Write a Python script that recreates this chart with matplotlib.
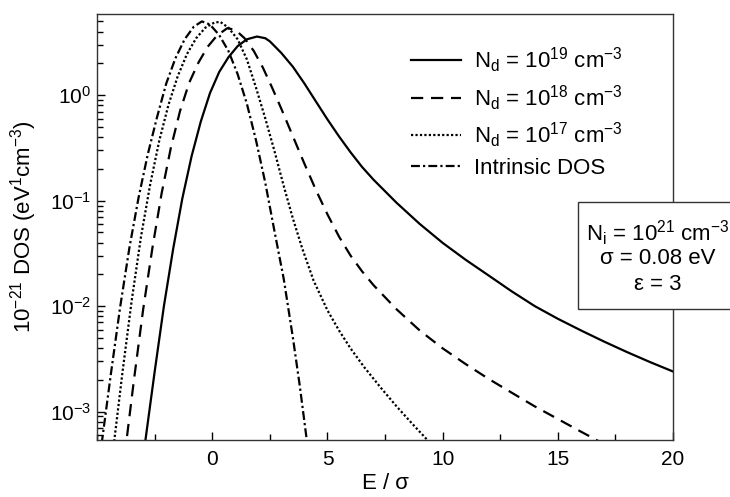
import numpy as np
import matplotlib
matplotlib.use('Agg')
import matplotlib.pyplot as plt
from matplotlib.ticker import MultipleLocator, FixedLocator, LogLocator, NullFormatter
from matplotlib.patches import Rectangle

plt.rcParams['font.family'] = ['Liberation Sans', 'DejaVu Sans']
plt.rcParams['mathtext.fontset'] = 'custom'
plt.rcParams['mathtext.rm'] = 'Liberation Sans'
plt.rcParams['mathtext.it'] = 'Liberation Sans:italic'
plt.rcParams['mathtext.default'] = 'regular'

# values (x = E/sigma, y = 1e-21 DOS)
x_19 = [-3.0, -2.9, -2.5, -2.1, -1.7, -1.3, -0.9, -0.5, -0.1, 0.3, 0.7, 1.1, 1.5, 1.94,
        2.3, 2.5, 3.0, 3.5, 4.0, 4.5, 5.0, 5.5, 6.0, 6.5, 7.0, 8.0, 9.0, 10.0, 11.0,
        12.0, 13.0, 14.0, 15.0, 16.0, 17.0, 18.0, 19.0, 20.0]
y_19 = [3.7e-4, 5.4e-4, 2.4e-3, 0.010, 0.0347, 0.105, 0.263, 0.562, 1.047, 1.66, 2.29,
        2.92, 3.39, 3.60, 3.47, 3.24, 2.51, 1.86, 1.29, 0.871, 0.589, 0.407, 0.288, 0.209,
        0.158, 0.0955, 0.0603, 0.0398, 0.0275, 0.0195, 0.0138, 0.0100, 0.00759, 0.00589,
        0.00462, 0.00367, 0.00295, 0.0024]

x_18 = [-3.8, -3.72, -3.4, -3.0, -2.6, -2.2, -1.8, -1.4, -1.0, -0.6, -0.2, 0.2, 0.65,
        1.0, 1.4, 1.8, 2.2, 2.6, 3.0, 3.5, 4.0, 4.5, 5.0, 5.5, 6.0, 6.5, 7.0, 8.0, 9.0,
        10.0, 11.0, 12.0, 13.0, 14.0, 15.0, 16.0, 16.6, 17.0]
y_18 = [3.8e-4, 5.4e-4, 2.0e-3, 9.33e-3, 0.0355, 0.117, 0.316, 0.708, 1.318, 2.04, 2.88,
        3.67, 4.32, 4.17, 3.47, 2.63, 1.82, 1.175, 0.741, 0.407, 0.224, 0.126, 0.0741,
        0.0457, 0.0302, 0.0214, 0.0158, 9.33e-3, 5.89e-3, 3.98e-3, 2.82e-3, 2.04e-3,
        1.51e-3, 1.12e-3, 8.51e-4, 6.46e-4, 5.5e-4, 4.9e-4]

x_17 = [-4.35, -4.25, -3.9, -3.5, -3.1, -2.7, -2.3, -1.9, -1.5, -1.1, -0.7, -0.3, 0.1,
        0.35, 0.7, 1.1, 1.5, 1.9, 2.3, 2.7, 3.1, 3.5, 3.9, 4.4, 5.0, 5.5, 6.0, 6.6, 7.3,
        8.0, 8.7, 9.33, 9.6]
y_17 = [3.55e-4, 5.4e-4, 2.34e-3, 0.0112, 0.0447, 0.141, 0.372, 0.813, 1.514, 2.455, 3.47,
        4.37, 4.90, 4.95, 4.37, 3.39, 2.19, 1.175, 0.603, 0.295, 0.138, 0.0676, 0.0355,
        0.0174, 9.12e-3, 5.89e-3, 3.98e-3, 2.63e-3, 1.70e-3, 1.12e-3, 7.59e-4, 5.4e-4,
        4.68e-4]

x_in = [-4.9, -4.78, -4.4, -4.0, -3.6, -3.2, -2.8, -2.4, -2.0, -1.6, -1.2, -0.8, -0.45,
        -0.1, 0.3, 0.7, 1.1, 1.5, 1.9, 2.3, 2.7, 3.1, 3.5, 3.8, 4.1, 4.2]
y_in = [3.4e-4, 5.4e-4, 2.29e-3, 9.77e-3, 0.0355, 0.107, 0.275, 0.617, 1.288, 2.24, 3.39,
        4.47, 5.01, 4.68, 3.72, 2.63, 1.585, 0.832, 0.372, 0.148, 0.0513, 0.0182, 5.01e-3,
        1.74e-3, 5.4e-4, 3.55e-4]

labels = [r'N$_d$ = 10$^{19}$ cm$^{-3}$', r'N$_d$ = 10$^{18}$ cm$^{-3}$',
          r'N$_d$ = 10$^{17}$ cm$^{-3}$', 'Intrinsic DOS']
xticks = [0, 5, 10, 15, 20]

fig = plt.figure(figsize=(7.3, 4.97), dpi=100)
ax = fig.add_axes([0.133, 0.115, 0.789, 0.857])

lw = 1.6
ax.plot(x_19, y_19, color='black', lw=lw, ls='-', label=labels[0])
ax.plot(x_18, y_18, color='black', lw=lw, ls=(0, (5.5, 3.5)), label=labels[1])
ax.plot(x_17, y_17, color='black', lw=lw, ls=(0, (1, 1.0)), label=labels[2])
ax.plot(x_in, y_in, color='black', lw=lw, ls=(0, (4, 1.4, 1, 1.4)), label=labels[3])

ax.set_yscale('log')
ax.set_xlim(-5, 20)
ax.set_ylim(5.4e-4, 5.9)
ax.xaxis.set_major_locator(FixedLocator(xticks))
ax.xaxis.set_minor_locator(MultipleLocator(2.5))
ax.yaxis.set_major_locator(LogLocator(base=10, numticks=10))
ax.yaxis.set_minor_locator(LogLocator(base=10, subs=np.arange(2, 10), numticks=10))
ax.yaxis.set_minor_formatter(NullFormatter())
ax.tick_params(which='both', direction='in', top=False, right=False, labelsize=15)
ax.tick_params(axis='x', pad=7)
ax.tick_params(axis='y', pad=4)
ax.tick_params(which='major', length=6, width=1)
ax.tick_params(which='minor', length=4, width=1)
for s in ax.spines.values():
    s.set_linewidth(1.0)
    s.set_color('#333333')

ax.set_xlabel('E / σ', fontsize=16, labelpad=3)
ax.set_ylabel(r'10$^{-21}$ DOS (eV$^{1}$cm$^{-3}$)', fontsize=16, labelpad=8)

leg = ax.legend(loc='upper left', bbox_to_anchor=(0.545, 0.925), frameon=False, fontsize=16,
                handlelength=2.25, handletextpad=0.6, labelspacing=0.35, borderpad=0,
                borderaxespad=0)

# parameter box, partly outside the figure
box = Rectangle((578 / 730, 1 - 309 / 497), 0.3, 107 / 497, transform=fig.transFigure,
                facecolor='white', edgecolor='#333333', lw=1.0, zorder=5, clip_on=False)
fig.patches.append(box)
fig.text(0.901, 1 - 233 / 497, r'N$_i$ = 10$^{21}$ cm$^{-3}$', ha='center', va='center',
         fontsize=16, zorder=6)
fig.text(0.901, 1 - 258 / 497, 'σ = 0.08 eV', ha='center', va='center', fontsize=16, zorder=6)
fig.text(0.901, 1 - 285 / 497, 'ε = 3', ha='center', va='center', fontsize=16, zorder=6)

fig.savefig('out.png', dpi=100)
